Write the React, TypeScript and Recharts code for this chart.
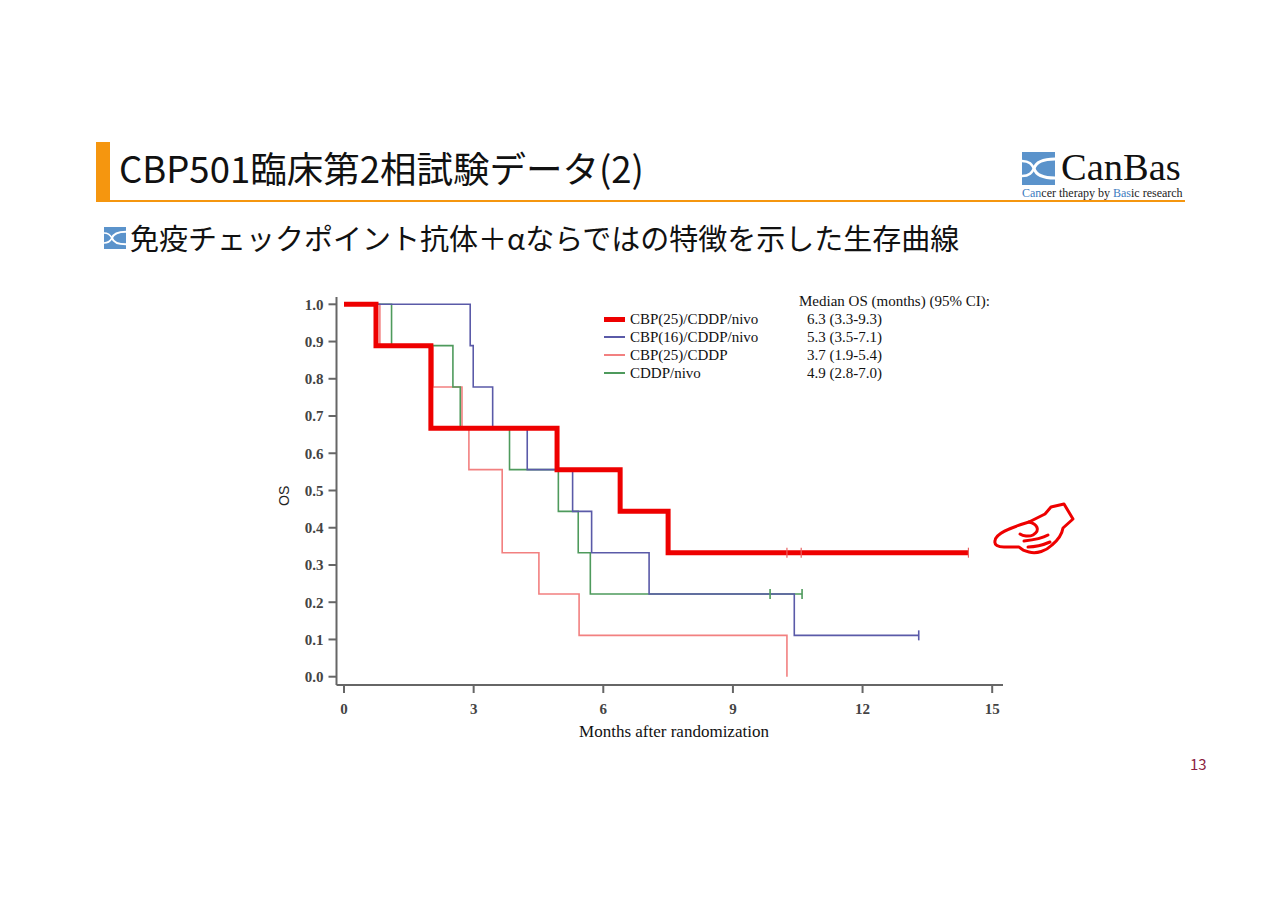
import { ComposedChart, Line, Scatter, XAxis, YAxis, Legend } from 'recharts';

// Kaplan-Meier steps (months, survival)
const redTimes = [0, 0.74, 2.01, 4.93, 6.39, 7.5, 14.45];
const redSurv = [1.0, 0.889, 0.667, 0.556, 0.444, 0.333, 0.333];
const redCensor = [10.25, 10.58, 14.45];

const blueTimes = [0, 2.92, 2.99, 3.44, 4.24, 5.29, 5.73, 7.06, 10.42, 13.3];
const blueSurv = [1.0, 0.889, 0.778, 0.667, 0.556, 0.444, 0.333, 0.222, 0.111, 0.111];
const blueCensor = [13.3];

const pinkTimes = [0, 0.83, 2.06, 2.73, 2.89, 3.66, 4.51, 5.44, 10.25];
const pinkSurv = [1.0, 0.889, 0.778, 0.667, 0.556, 0.333, 0.222, 0.111, 0.0];

const greenTimes = [0, 1.1, 2.52, 2.69, 3.83, 4.96, 5.42, 5.7, 10.6];
const greenSurv = [1.0, 0.889, 0.778, 0.667, 0.556, 0.444, 0.333, 0.222, 0.222];
const greenCensor = [9.86, 10.6];

const xTicks = [0, 3, 6, 9, 12, 15];
const yTicks = [0, 0.1, 0.2, 0.3, 0.4, 0.5, 0.6, 0.7, 0.8, 0.9, 1.0];

const seriesNames = ['CBP(25)/CDDP/nivo', 'CBP(16)/CDDP/nivo', 'CBP(25)/CDDP', 'CDDP/nivo'];
const medianLabels = ['6.3 (3.3-9.3)', '5.3 (3.5-7.1)', '3.7 (1.9-5.4)', '4.9 (2.8-7.0)'];

const RED = '#EE0000';
const BLUE = '#5A5AA8';
const PINK = '#F28080';
const GREEN = '#4E9A5C';
const ORANGE = '#F5960F';
const seriesColors = [RED, BLUE, PINK, GREEN];
const seriesWidths = [5, 1.6, 1.6, 1.6];

const zip = (times: number[], surv: number[]) => times.map((t, i) => ({ t, s: surv[i] }));
const censorPoints = (times: number[], value: number) => times.map((t) => ({ t, s: value }));

const SERIF = '"Liberation Serif", "DejaVu Serif", serif';
const SANS = '"Noto Sans CJK JP", "Noto Sans", sans-serif';

function censorShape(color: string, width: number) {
  return (props: any) => (
    <line x1={props.cx} x2={props.cx} y1={props.cy - 5} y2={props.cy + 5} stroke={color} strokeWidth={width} />
  );
}

function LegendBox() {
  return (
    <div style={{ fontFamily: SERIF, fontSize: 15, color: '#111', position: 'relative', width: 400, height: 100 }}>
      <div style={{ position: 'absolute', left: 195, top: 0, lineHeight: '18px' }}>Median OS (months) (95% CI):</div>
      {seriesNames.map((name, i) => (
        <div key={name} style={{ position: 'absolute', left: 0, top: 18 + i * 18, height: 18, width: 400 }}>
          <div
            style={{
              position: 'absolute',
              left: 0,
              top: 9 - seriesWidths[i] / 2,
              width: 21,
              height: seriesWidths[i],
              background: seriesColors[i],
            }}
          />
          <div style={{ position: 'absolute', left: 26, top: 0, lineHeight: '18px' }}>{name}</div>
          <div style={{ position: 'absolute', left: 203, top: 0, lineHeight: '18px' }}>{medianLabels[i]}</div>
        </div>
      ))}
    </div>
  );
}

function LogoMark({ size }: { size: number }) {
  return (
    <svg width={size} height={size} viewBox="0 0 33 33">
      <rect x={0} y={0} width={33} height={33} fill="#5B93CB" />
      <path d="M33 7 C20 7 14 10 12 16.5 C14 23 20 26 33 26" stroke="#fff" strokeWidth={3} fill="none" />
      <path d="M0 9 C8 9 10 13 12 16.5 C10 20 8 24 0 24" stroke="#fff" strokeWidth={2.5} fill="none" />
    </svg>
  );
}

function PointingHand() {
  return (
    <svg width={86} height={56} viewBox="0 0 86 56" style={{ position: 'absolute', left: 991, top: 502 }}>
      <g stroke={RED} strokeWidth={3} fill="#fff" strokeLinejoin="round" strokeLinecap="round">
        <path d="M4 39 C4 32 18 26 38 20 L54 12 L60 5 L73 2 L82 17 L72 26 C71 32 67 38 61 43 C55 49 46 52 38 50 C33 49 30 47 28 45 L13 45 C7 45 3 43 4 39 Z" />
        <path d="M38 20 C46 22 50 28 42 33 C38 35 32 34 29 32" fill="none" />
        <path d="M33 39 C42 38 50 37 57 33" fill="none" />
        <path d="M37 45 C45 45 52 43 59 40" fill="none" />
      </g>
    </svg>
  );
}

export default function App() {
  return (
    <div
      style={{
        position: 'absolute',
        left: 0,
        top: 0,
        width: 1280,
        height: 904,
        background: '#fff',
        overflow: 'hidden',
        fontFamily: SANS,
      }}
    >
      {/* header */}
      <div style={{ position: 'absolute', left: 96, top: 142, width: 14, height: 60, background: ORANGE }} />
      <div style={{ position: 'absolute', left: 96, top: 200, width: 1089, height: 2, background: ORANGE }} />
      <div style={{ position: 'absolute', left: 119, top: 147, fontSize: 36.5, lineHeight: '42px', color: '#111', whiteSpace: 'nowrap' }}>
        CBP501臨床第2相試験データ(2)
      </div>
      <div style={{ position: 'absolute', left: 1022, top: 152 }}>
        <LogoMark size={33} />
      </div>
      <div style={{ position: 'absolute', left: 1061, top: 151, fontFamily: SERIF, fontSize: 38.5, lineHeight: '32px', color: '#111' }}>
        CanBas
      </div>
      <div style={{ position: 'absolute', left: 1022, top: 188, fontFamily: SERIF, fontSize: 12, lineHeight: '11px', color: '#222', whiteSpace: 'nowrap' }}>
        <span style={{ color: '#3D7CC0' }}>Can</span>cer therapy by <span style={{ color: '#3D7CC0' }}>Bas</span>ic research
      </div>
      <div style={{ position: 'absolute', left: 104, top: 227 }}>
        <LogoMark size={22} />
      </div>
      <div style={{ position: 'absolute', left: 130, top: 219, fontSize: 29, lineHeight: '36px', color: '#111', whiteSpace: 'nowrap' }}>
        免疫チェックポイント抗体＋αならではの特徴を示した生存曲線
      </div>

      {/* chart */}
      <div style={{ position: 'absolute', left: 260, top: 280 }}>
        <ComposedChart width={780} height={480} margin={{ top: 17, right: 37, bottom: 35, left: 16.5 }}>
          <XAxis
            type="number"
            dataKey="t"
            domain={[-0.174, 15.25]}
            allowDataOverflow
            ticks={xTicks}
            height={40}
            stroke="#666"
            strokeWidth={2}
            tickSize={8}
            tickMargin={10}
            tick={{ fill: '#444', fontSize: 15, fontWeight: 'bold', fontFamily: SERIF }}
          />
          <YAxis
            type="number"
            domain={[-0.0223, 1.0196]}
            allowDataOverflow
            ticks={yTicks}
            width={60}
            stroke="#666"
            strokeWidth={2}
            tickSize={8}
            tickMargin={5}
            tickFormatter={(v: number) => v.toFixed(1)}
            tick={{ fill: '#444', fontSize: 15, fontWeight: 'bold', fontFamily: SERIF }}
          />
          <Legend
            layout="vertical"
            align="center"
            verticalAlign="middle"
            content={() => <LegendBox />}
            wrapperStyle={{ position: 'absolute', left: 344, top: 12, width: 400 }}
          />
          <Line data={zip(pinkTimes, pinkSurv)} dataKey="s" type="stepAfter" stroke={PINK} strokeWidth={1.6} dot={false} isAnimationActive={false} />
          <Line data={zip(greenTimes, greenSurv)} dataKey="s" type="stepAfter" stroke={GREEN} strokeWidth={1.6} dot={false} isAnimationActive={false} />
          <Line data={zip(blueTimes, blueSurv)} dataKey="s" type="stepAfter" stroke={BLUE} strokeWidth={1.6} dot={false} isAnimationActive={false} />
          <Line data={zip(redTimes, redSurv)} dataKey="s" type="stepAfter" stroke={RED} strokeWidth={5} dot={false} isAnimationActive={false} />
          <Scatter data={censorPoints(greenCensor, 0.222)} dataKey="s" shape={censorShape(GREEN, 1.6)} isAnimationActive={false} />
          <Scatter data={censorPoints(blueCensor, 0.111)} dataKey="s" shape={censorShape(BLUE, 1.6)} isAnimationActive={false} />
          <Scatter data={censorPoints(redCensor, 0.333)} dataKey="s" shape={censorShape('#E86060', 1.2)} isAnimationActive={false} />
        </ComposedChart>
      </div>
      <div
        style={{
          position: 'absolute',
          left: 274,
          top: 488,
          width: 20,
          fontFamily: '"Liberation Sans", Arial, sans-serif',
          fontSize: 14,
          color: '#222',
          transform: 'rotate(-90deg)',
          textAlign: 'center',
        }}
      >
        OS
      </div>
      <div style={{ position: 'absolute', left: 524, top: 722, width: 300, textAlign: 'center', fontFamily: SERIF, fontSize: 17, color: '#111' }}>
        Months after randomization
      </div>

      <PointingHand />

      <div style={{ position: 'absolute', left: 1190, top: 753, fontSize: 15, color: '#8B1E3F' }}>13</div>
    </div>
  );
}
